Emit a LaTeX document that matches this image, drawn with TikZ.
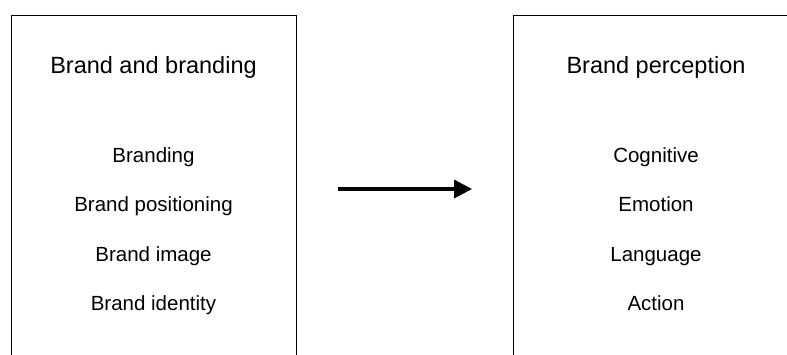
\documentclass[tikz,border=0pt]{standalone}
\usepackage{fontspec}
\setmainfont{Liberation Sans}
\usetikzlibrary{positioning, arrows.meta}

\begin{document}
\begin{tikzpicture}[x=1pt, y=-1pt]
  \tikzset{
    panel/.style={
      draw,
      line width=0.9pt,
      minimum width=285pt,
      minimum height=348pt,
      anchor=center
    },
    heading/.style={
      font=\fontsize{23.5}{28}\selectfont,
      inner sep=0pt,
      anchor=base
    },
    item/.style={
      font=\fontsize{20.5}{24}\selectfont,
      inner sep=0pt,
      anchor=base
    },
    flow/.style={
      line width=3.2pt,
      -{Triangle[length=18pt, width=18pt]}
    }
  }

  \useasboundingbox (0,0) rectangle (787,354);
  \clip (0,0) rectangle (787,354);

  % Draw the two panels
  \node[panel] at (153.5,189) (brand) {};
  \node[panel] at (656,189) (perception) {};

  % Left panel texts
  \node[heading] at (153.5,73) (brandtitle) {Brand and branding};
  \node[item] at (153.5,162) (branding) {Branding};
  \node[item] at (153.5,211.5) (positioning) {Brand positioning};
  \node[item] at (153.5,261) (image) {Brand image};
  \node[item] at (153.5,310.5) (identity) {Brand identity};

  % Right panel texts
  \node[heading] at (656,73) (perceptiontitle) {Brand perception};
  \node[item] at (656,162) (cognitive) {Cognitive};
  \node[item] at (656,211.5) (emotion) {Emotion};
  \node[item] at (656,261) (language) {Language};
  \node[item] at (656,310.5) (action) {Action};

  % Arrow between the panels
  \draw[flow, shorten <=42pt, shorten >=41pt] (brand) -- (perception);

\end{tikzpicture}
\end{document}
